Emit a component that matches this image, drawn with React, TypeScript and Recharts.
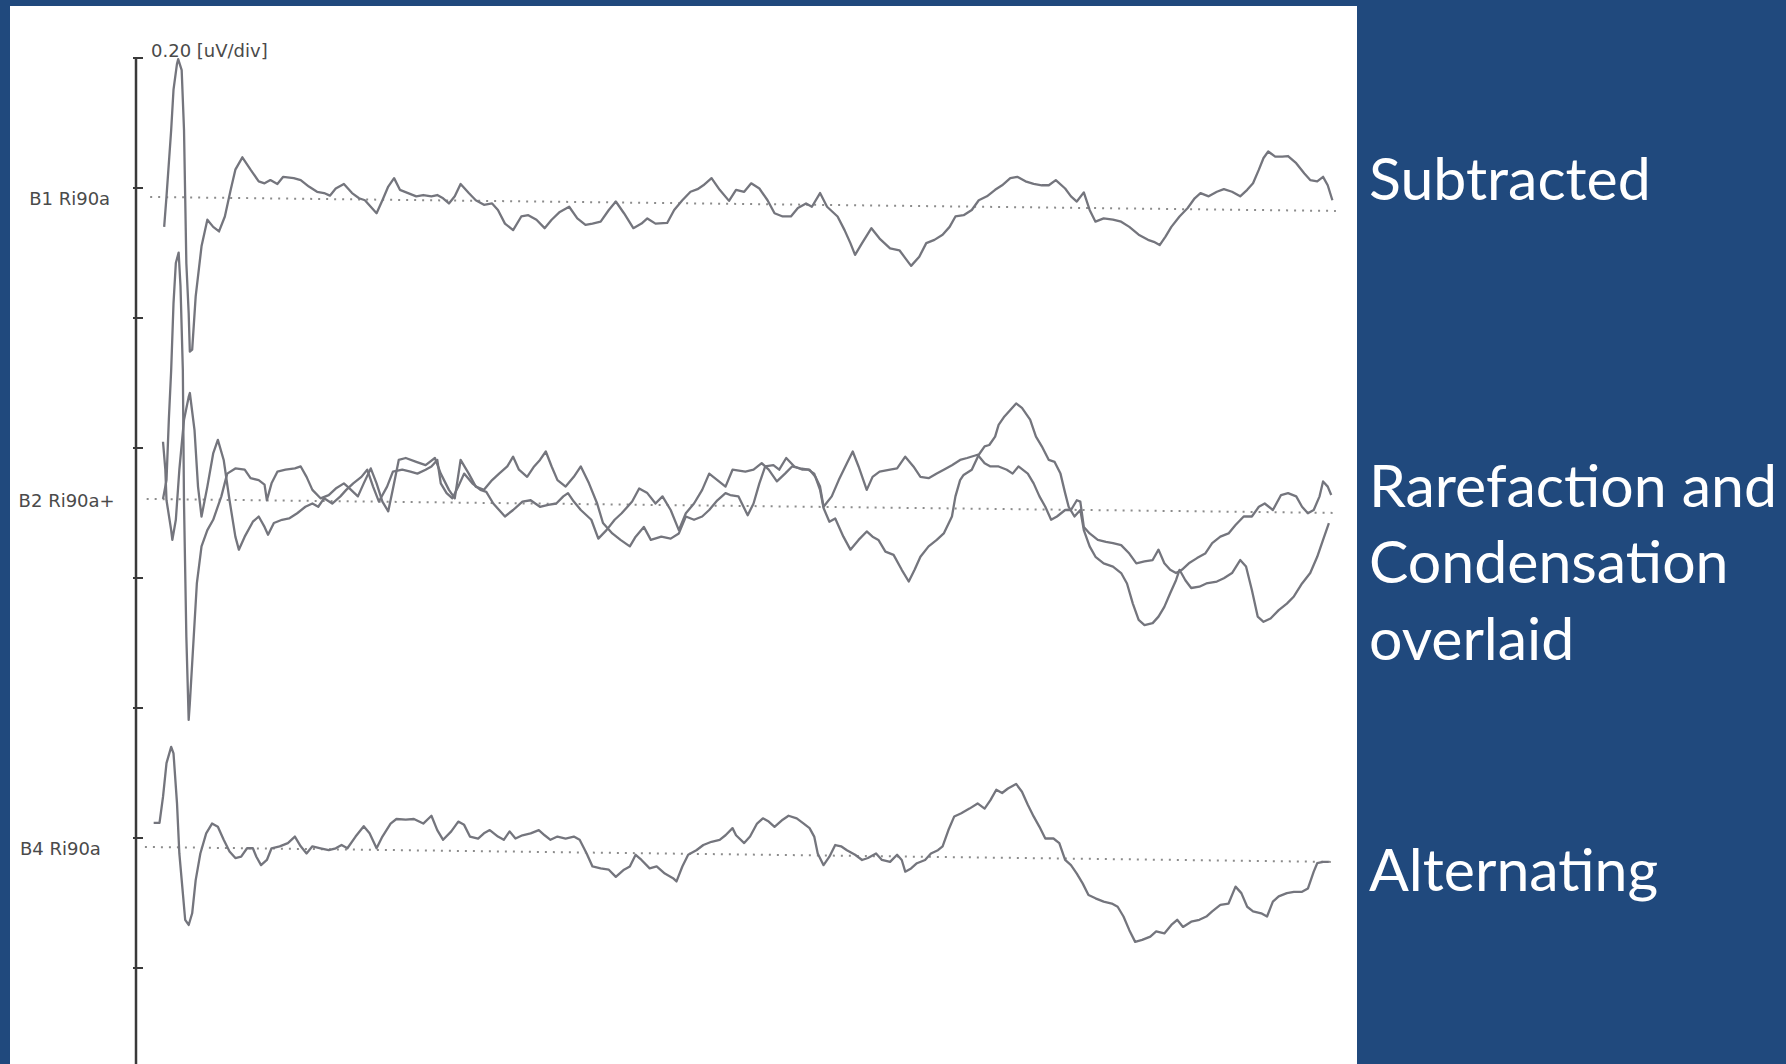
import React from 'react';
import { LineChart, Line, XAxis, YAxis, ReferenceLine } from 'recharts';

// Latency in ms, amplitude in uV relative to each channel's dotted baseline
const subtracted: [number, number][] = [
  [0.01, -0.046], [0.03, 0.001], [0.07, 0.103], [0.09, 0.165], [0.12, 0.205], [0.13, 0.212], [0.16, 0.195],
  [0.18, 0.103], [0.19, 0.001], [0.2, -0.102], [0.22, -0.179], [0.23, -0.238], [0.25, -0.235], [0.28, -0.153],
  [0.33, -0.076], [0.38, -0.035], [0.43, -0.046], [0.48, -0.053], [0.53, -0.03], [0.58, 0.011], [0.62, 0.042],
  [0.68, 0.061], [0.75, 0.042], [0.82, 0.024], [0.87, 0.021], [0.92, 0.026], [0.98, 0.02], [1.03, 0.031],
  [1.12, 0.029], [1.18, 0.026], [1.25, 0.016], [1.32, 0.008], [1.38, 0.006], [1.43, 0.002], [1.48, 0.013],
  [1.55, 0.02], [1.62, 0.006], [1.68, -0.002], [1.73, -0.005], [1.78, -0.015], [1.83, -0.025], [1.88, -0.005],
  [1.93, 0.016], [1.98, 0.029], [2.03, 0.011], [2.1, 0.006], [2.17, 0.001], [2.23, 0.003], [2.3, 0.001],
  [2.35, 0.003], [2.4, -0.002], [2.45, -0.01], [2.5, 0.001], [2.55, 0.02], [2.62, 0.006], [2.68, -0.005],
  [2.75, -0.012], [2.82, -0.01], [2.87, -0.02], [2.93, -0.041], [3.0, -0.051], [3.07, -0.03], [3.13, -0.028],
  [3.2, -0.035], [3.27, -0.048], [3.33, -0.035], [3.4, -0.023], [3.48, -0.015], [3.55, -0.033], [3.62, -0.043],
  [3.68, -0.041], [3.75, -0.038], [3.82, -0.02], [3.88, -0.007], [3.95, -0.025], [4.03, -0.048], [4.1, -0.041],
  [4.15, -0.033], [4.22, -0.041], [4.32, -0.04], [4.38, -0.02], [4.45, -0.005], [4.52, 0.008], [4.58, 0.012],
  [4.63, 0.018], [4.7, 0.029], [4.77, 0.011], [4.85, -0.006], [4.91, 0.011], [4.98, 0.008], [5.04, 0.021],
  [5.11, 0.013], [5.18, -0.005], [5.24, -0.025], [5.31, -0.03], [5.38, -0.03], [5.44, -0.017], [5.51, -0.01],
  [5.56, -0.015], [5.63, 0.006], [5.69, -0.015], [5.78, -0.03], [5.84, -0.051], [5.89, -0.071], [5.93, -0.089],
  [5.99, -0.071], [6.07, -0.048], [6.14, -0.064], [6.23, -0.079], [6.31, -0.082], [6.36, -0.094], [6.41, -0.106],
  [6.48, -0.092], [6.54, -0.071], [6.61, -0.066], [6.68, -0.058], [6.74, -0.046], [6.79, -0.03], [6.86, -0.028],
  [6.93, -0.02], [6.99, -0.005], [7.06, 0.001], [7.13, 0.011], [7.19, 0.018], [7.26, 0.029], [7.32, 0.031],
  [7.39, 0.024], [7.46, 0.02], [7.53, 0.018], [7.59, 0.018], [7.65, 0.026], [7.73, 0.013], [7.78, 0.001],
  [7.83, -0.007], [7.89, 0.007], [7.94, -0.02], [7.99, -0.038], [8.06, -0.033], [8.14, -0.035], [8.21, -0.038],
  [8.28, -0.046], [8.36, -0.058], [8.44, -0.066], [8.49, -0.069], [8.54, -0.074], [8.59, -0.061], [8.64, -0.046],
  [8.71, -0.03], [8.78, -0.017], [8.84, -0.002], [8.89, 0.006], [8.96, 0.001], [9.03, 0.008], [9.09, 0.012],
  [9.16, 0.008], [9.23, 0.001], [9.29, 0.011], [9.34, 0.021], [9.39, 0.042], [9.43, 0.06], [9.47, 0.07],
  [9.53, 0.062], [9.59, 0.062], [9.64, 0.063], [9.71, 0.052], [9.78, 0.036], [9.83, 0.026], [9.89, 0.024],
  [9.94, 0.031], [9.98, 0.018], [10.02, -0.005],
];

const rarefaction: [number, number][] = [
  [0.0, 0], [0.03, 0.029], [0.05, 0.122], [0.07, 0.198], [0.09, 0.301], [0.11, 0.363], [0.134, 0.379],
  [0.15, 0.327], [0.17, 0.198], [0.18, -0.007], [0.2, -0.212], [0.22, -0.34], [0.23, -0.314], [0.26, -0.222],
  [0.29, -0.13], [0.33, -0.073], [0.38, -0.048], [0.43, -0.032], [0.5, 0.004], [0.55, 0.039], [0.62, 0.047],
  [0.7, 0.045], [0.75, 0.032], [0.82, 0.029], [0.87, 0.022], [0.89, -0.002], [0.93, 0.024], [0.98, 0.042],
  [1.05, 0.045], [1.13, 0.047], [1.18, 0.05], [1.23, 0.034], [1.28, 0.014], [1.35, 0.001], [1.42, 0.006],
  [1.48, 0.016], [1.55, 0.024], [1.6, 0.016], [1.67, 0.004], [1.72, 0.024], [1.78, 0.047], [1.83, 0.024],
  [1.88, -0.004], [1.93, -0.019], [1.98, 0.024], [2.02, 0.06], [2.08, 0.063], [2.17, 0.057], [2.25, 0.052],
  [2.33, 0.063], [2.38, 0.039], [2.45, 0.014], [2.5, 0.001], [2.55, 0.06], [2.62, 0.039], [2.68, 0.019],
  [2.75, 0.014], [2.82, 0.029], [2.88, 0.039], [2.95, 0.05], [3.0, 0.065], [3.05, 0.045], [3.12, 0.034],
  [3.18, 0.05], [3.23, 0.06], [3.28, 0.073], [3.33, 0.05], [3.38, 0.029], [3.45, 0.019], [3.52, 0.034],
  [3.58, 0.05], [3.65, 0.024], [3.72, -0.007], [3.77, -0.037], [3.85, -0.053], [3.92, -0.063], [4.0, -0.073],
  [4.05, -0.058], [4.12, -0.043], [4.18, -0.063], [4.27, -0.058], [4.35, -0.061], [4.42, -0.053], [4.48, -0.027],
  [4.55, -0.032], [4.62, -0.027], [4.68, -0.017], [4.75, -0.002], [4.82, 0.009], [4.86, 0.006], [4.93, 0.004],
  [5.01, -0.025], [5.06, -0.007], [5.11, 0.024], [5.16, 0.05], [5.23, 0.052], [5.28, 0.045], [5.34, 0.063],
  [5.41, 0.05], [5.48, 0.045], [5.54, 0.045], [5.59, 0.034], [5.63, 0.019], [5.66, -0.012], [5.73, 0.004],
  [5.79, 0.029], [5.86, 0.055], [5.91, 0.073], [5.96, 0.05], [6.03, 0.014], [6.08, 0.034], [6.14, 0.042],
  [6.23, 0.045], [6.29, 0.047], [6.36, 0.065], [6.43, 0.05], [6.49, 0.034], [6.56, 0.032], [6.63, 0.039],
  [6.69, 0.045], [6.76, 0.052], [6.83, 0.06], [6.89, 0.063], [6.98, 0.068], [7.04, 0.055], [7.09, 0.05],
  [7.16, 0.05], [7.23, 0.045], [7.28, 0.039], [7.33, 0.05], [7.41, 0.039], [7.46, 0.024], [7.51, 0.004],
  [7.56, -0.012], [7.61, -0.032], [7.66, -0.027], [7.73, -0.017], [7.78, -0.017], [7.83, -0.002], [7.86, -0.004],
  [7.89, -0.043], [7.94, -0.053], [8.01, -0.063], [8.08, -0.066], [8.14, -0.068], [8.21, -0.071], [8.28, -0.084],
  [8.34, -0.099], [8.41, -0.096], [8.48, -0.094], [8.53, -0.078], [8.58, -0.099], [8.63, -0.109], [8.68, -0.114],
  [8.73, -0.109], [8.79, -0.099], [8.86, -0.091], [8.93, -0.084], [8.99, -0.068], [9.06, -0.058], [9.13, -0.053],
  [9.19, -0.04], [9.26, -0.027], [9.33, -0.027], [9.39, -0.012], [9.44, -0.007], [9.51, -0.017], [9.58, 0.006],
  [9.64, 0.009], [9.71, 0.004], [9.76, -0.012], [9.81, -0.022], [9.86, -0.017], [9.91, 0.004], [9.94, 0.027],
  [9.98, 0.019], [10.01, 0.006],
];

const condensation: [number, number][] = [
  [0.0, 0.088], [0.02, 0.045], [0.03, -0.002], [0.07, -0.048], [0.08, -0.063], [0.11, -0.032], [0.14, 0.045],
  [0.18, 0.122], [0.22, 0.157], [0.23, 0.163], [0.27, 0.106], [0.3, 0.019], [0.33, -0.027], [0.38, 0.019],
  [0.43, 0.07], [0.47, 0.091], [0.52, 0.06], [0.57, -0.002], [0.62, -0.058], [0.65, -0.078], [0.7, -0.058],
  [0.77, -0.035], [0.82, -0.027], [0.87, -0.043], [0.9, -0.055], [0.95, -0.037], [1.02, -0.032], [1.08, -0.03],
  [1.15, -0.022], [1.22, -0.012], [1.28, -0.007], [1.33, -0.012], [1.38, 0.001], [1.45, -0.007], [1.52, 0.004],
  [1.57, 0.014], [1.63, 0.024], [1.7, 0.034], [1.75, 0.045], [1.8, 0.019], [1.85, -0.004], [1.92, 0.019],
  [1.97, 0.042], [2.05, 0.045], [2.12, 0.042], [2.18, 0.039], [2.25, 0.045], [2.3, 0.05], [2.35, 0.06],
  [2.38, 0.024], [2.43, 0.009], [2.48, 0.001], [2.53, 0.019], [2.58, 0.039], [2.65, 0.024], [2.72, 0.014],
  [2.77, 0.011], [2.83, -0.007], [2.88, -0.017], [2.93, -0.027], [3.0, -0.017], [3.08, -0.004], [3.15, -0.002],
  [3.23, -0.012], [3.3, -0.009], [3.37, -0.007], [3.43, 0.004], [3.47, 0.009], [3.52, -0.004], [3.58, -0.017],
  [3.67, -0.032], [3.73, -0.061], [3.8, -0.048], [3.87, -0.032], [3.93, -0.022], [4.02, -0.004], [4.08, 0.016],
  [4.15, 0.009], [4.22, -0.007], [4.28, 0.004], [4.35, -0.017], [4.42, -0.048], [4.48, -0.022], [4.55, -0.007],
  [4.62, 0.014], [4.68, 0.039], [4.75, 0.029], [4.82, 0.019], [4.88, 0.045], [4.99, 0.042], [5.06, 0.045],
  [5.13, 0.055], [5.19, 0.045], [5.26, 0.027], [5.33, 0.039], [5.39, 0.05], [5.46, 0.047], [5.53, 0.045],
  [5.58, 0.039], [5.63, 0.014], [5.66, -0.014], [5.71, -0.035], [5.76, -0.03], [5.83, -0.058], [5.89, -0.078],
  [5.96, -0.063], [6.03, -0.05], [6.08, -0.058], [6.13, -0.063], [6.19, -0.081], [6.26, -0.086], [6.33, -0.109],
  [6.39, -0.127], [6.44, -0.109], [6.49, -0.089], [6.56, -0.073], [6.63, -0.063], [6.69, -0.053], [6.76, -0.027],
  [6.79, 0.004], [6.83, 0.029], [6.86, 0.037], [6.93, 0.045], [6.99, 0.068], [7.04, 0.081], [7.08, 0.083],
  [7.13, 0.096], [7.16, 0.114], [7.21, 0.127], [7.26, 0.137], [7.31, 0.147], [7.36, 0.14], [7.43, 0.122],
  [7.48, 0.096], [7.53, 0.081], [7.59, 0.06], [7.64, 0.057], [7.69, 0.039], [7.73, 0.009], [7.76, -0.012],
  [7.81, -0.027], [7.86, -0.017], [7.89, -0.048], [7.94, -0.073], [7.99, -0.089], [8.06, -0.099], [8.14, -0.104],
  [8.21, -0.114], [8.26, -0.13], [8.31, -0.161], [8.36, -0.186], [8.41, -0.194], [8.48, -0.191], [8.53, -0.181],
  [8.58, -0.166], [8.63, -0.145], [8.68, -0.125], [8.71, -0.109], [8.76, -0.125], [8.81, -0.137], [8.88, -0.135],
  [8.94, -0.13], [9.03, -0.127], [9.09, -0.122], [9.16, -0.114], [9.23, -0.094], [9.28, -0.104], [9.33, -0.14],
  [9.38, -0.181], [9.43, -0.189], [9.49, -0.184], [9.56, -0.171], [9.63, -0.161], [9.69, -0.15], [9.76, -0.13],
  [9.83, -0.114], [9.89, -0.089], [9.94, -0.063], [9.99, -0.037],
];

const alternating: [number, number][] = [
  [-0.08, 0.037], [-0.03, 0.037], [0.0, 0.077], [0.03, 0.129], [0.07, 0.154], [0.09, 0.144], [0.12, 0.067],
  [0.14, -0.01], [0.17, -0.071], [0.19, -0.112], [0.22, -0.12], [0.25, -0.102], [0.28, -0.051], [0.32, -0.01],
  [0.37, 0.021], [0.42, 0.036], [0.47, 0.031], [0.52, 0.011], [0.57, -0.007], [0.62, -0.017], [0.67, -0.015],
  [0.72, -0.002], [0.77, -0.002], [0.8, -0.015], [0.84, -0.028], [0.89, -0.02], [0.93, -0.002], [1.0, 0.001],
  [1.07, 0.006], [1.13, 0.016], [1.18, 0.001], [1.23, -0.01], [1.28, 0.001], [1.35, -0.002], [1.42, -0.005],
  [1.48, -0.002], [1.53, 0.003], [1.58, -0.002], [1.65, 0.016], [1.72, 0.032], [1.77, 0.021], [1.83, -0.002],
  [1.88, 0.016], [1.95, 0.036], [2.0, 0.043], [2.08, 0.042], [2.15, 0.043], [2.23, 0.036], [2.3, 0.048],
  [2.35, 0.026], [2.4, 0.011], [2.47, 0.024], [2.53, 0.039], [2.58, 0.034], [2.63, 0.016], [2.7, 0.013],
  [2.75, 0.021], [2.8, 0.026], [2.87, 0.016], [2.92, 0.011], [2.97, 0.024], [3.02, 0.013], [3.08, 0.018],
  [3.15, 0.021], [3.22, 0.026], [3.27, 0.018], [3.32, 0.011], [3.38, 0.016], [3.45, 0.013], [3.52, 0.016],
  [3.57, 0.011], [3.63, -0.01], [3.68, -0.03], [3.75, -0.033], [3.82, -0.035], [3.88, -0.046], [3.95, -0.035],
  [4.0, -0.03], [4.05, -0.012], [4.1, -0.02], [4.17, -0.033], [4.23, -0.03], [4.3, -0.041], [4.37, -0.048],
  [4.4, -0.053], [4.45, -0.03], [4.5, -0.012], [4.57, -0.005], [4.63, 0.003], [4.7, 0.008], [4.77, 0.011],
  [4.82, 0.018], [4.88, 0.029], [4.91, 0.018], [4.98, 0.006], [5.03, 0.016], [5.09, 0.036], [5.14, 0.044],
  [5.19, 0.039], [5.24, 0.031], [5.31, 0.042], [5.36, 0.048], [5.43, 0.044], [5.49, 0.036], [5.54, 0.029],
  [5.58, 0.016], [5.61, -0.01], [5.66, -0.028], [5.71, -0.015], [5.76, 0.003], [5.81, 0.001], [5.86, -0.005],
  [5.93, -0.012], [5.99, -0.02], [6.04, -0.017], [6.11, -0.01], [6.16, -0.02], [6.23, -0.023], [6.29, -0.012],
  [6.33, -0.02], [6.36, -0.038], [6.41, -0.033], [6.46, -0.025], [6.53, -0.02], [6.58, -0.01], [6.64, -0.005],
  [6.68, 0.001], [6.73, 0.026], [6.78, 0.047], [6.84, 0.052], [6.91, 0.059], [6.98, 0.067], [7.04, 0.059],
  [7.09, 0.072], [7.14, 0.088], [7.19, 0.083], [7.24, 0.09], [7.31, 0.097], [7.36, 0.085], [7.41, 0.065],
  [7.46, 0.047], [7.51, 0.031], [7.56, 0.013], [7.63, 0.013], [7.68, 0.006], [7.73, -0.02], [7.78, -0.028],
  [7.83, -0.041], [7.88, -0.056], [7.93, -0.074], [7.99, -0.079], [8.06, -0.084], [8.13, -0.087], [8.18, -0.092],
  [8.23, -0.107], [8.28, -0.128], [8.33, -0.146], [8.39, -0.143], [8.46, -0.138], [8.51, -0.13], [8.58, -0.133],
  [8.64, -0.12], [8.69, -0.112], [8.74, -0.123], [8.81, -0.115], [8.88, -0.112], [8.94, -0.107], [8.99, -0.099],
  [9.06, -0.089], [9.13, -0.087], [9.19, -0.061], [9.24, -0.071], [9.29, -0.092], [9.34, -0.099], [9.41, -0.102],
  [9.46, -0.107], [9.51, -0.084], [9.56, -0.076], [9.63, -0.071], [9.69, -0.069], [9.76, -0.069], [9.81, -0.064],
  [9.86, -0.038], [9.89, -0.025], [9.94, -0.023], [9.99, -0.023],
];

// dotted baselines: start latency, end latency, drift at the end (uV)
const baselineStart = [-0.11, -0.14, -0.155];
const baselineEnd = [10.05, 10.05, 10.03];
const baselineDrift = [-0.0215, -0.0215, -0.023];

const channelNames = ['B1 Ri90a', 'B2 Ri90a+', 'B4 Ri90a'];
const divisionTicks = [0, 1, 2, 3, 4, 5, 6, 7];
const UV_PER_DIV = 0.2;
const scaleLabel = '0.20 [uV/div]';
const captions = ['Subtracted', 'Rarefaction and', 'Condensation', 'overlaid', 'Alternating'];

// layout: page pixels
const PANEL = { left: 10, top: 6, width: 1347, height: 1058 };
const PLOT_TOP = 58;
const PLOT_BOTTOM = 1064;
const PX_PER_DIV = 130;
const AXIS_X = 136;
const AXIS_W = 10;
// where each channel's zero sits on the division scale
const channelOffset = [5.931, 3.608, 0.931];
const labelGap = [40, 32, 44];
const captionY = [200, 507, 583, 660, 891];

const TRACE = '#74757d';
const INK = '#3a3a3a';
const LABEL = '#4a4a4a';

const divDomain: [number, number] = [7 - (PLOT_BOTTOM - PLOT_TOP) / PX_PER_DIV, 7];
const toPoints = (arr: [number, number][], ch: number) =>
  arr.map(([t, v]) => ({ t, v: channelOffset[ch] + v / UV_PER_DIV }));

const series = [
  { name: 'subtracted', data: toPoints(subtracted, 0) },
  { name: 'rarefaction', data: toPoints(rarefaction, 1) },
  { name: 'condensation', data: toPoints(condensation, 1) },
  { name: 'alternating', data: toPoints(alternating, 2) },
];

const DivTick = (props: any) => {
  const { x, y, payload } = props;
  return (
    <g>
      <line x1={x - 3} x2={x + 7} y1={y} y2={y} stroke={INK} strokeWidth={2} />
      {payload && payload.value === 7 && (
        <text x={x + 15} y={y - 1} fill={LABEL} fontSize={18} fontFamily="DejaVu Sans, sans-serif">
          {scaleLabel}
        </text>
      )}
    </g>
  );
};

const ChannelLabel = (props: any) => {
  const { viewBox, text, gap } = props;
  if (!viewBox) return null;
  return (
    <text
      x={viewBox.x - gap}
      y={viewBox.y + 2}
      textAnchor="end"
      dominantBaseline="central"
      fill={LABEL}
      fontSize={18}
      fontFamily="DejaVu Sans, sans-serif"
    >
      {text}
    </text>
  );
};

export default function App() {
  return (
    <div style={{ position: 'absolute', left: 0, top: 0, width: 1786, height: 1064, background: '#20497d', overflow: 'hidden' }}>
      <div style={{ position: 'absolute', ...PANEL, background: '#fff' }}>
        <LineChart
          width={PANEL.width}
          height={PANEL.height}
          margin={{ top: PLOT_TOP - PANEL.top, right: 12, bottom: 0, left: AXIS_X - PANEL.left - AXIS_W }}
        >
          <XAxis type="number" dataKey="t" domain={[-0.2314, 10.128]} allowDataOverflow hide />
          <YAxis
            type="number"
            domain={divDomain}
            allowDataOverflow
            ticks={divisionTicks}
            interval={0}
            width={AXIS_W}
            tickSize={0}
            tickMargin={0}
            tickLine={false}
            axisLine={{ stroke: INK, strokeWidth: 2.5 }}
            tick={<DivTick />}
          />
          {channelNames.map((name, i) => (
            <ReferenceLine
              key={name}
              segment={[
                { x: baselineStart[i], y: channelOffset[i] },
                { x: baselineEnd[i], y: channelOffset[i] + baselineDrift[i] / UV_PER_DIV },
              ]}
              stroke="#8c8c8c"
              strokeWidth={2}
              strokeDasharray="2 6"
              ifOverflow="visible"
              label={(p: any) => <ChannelLabel {...p} text={name} gap={labelGap[i]} />}
            />
          ))}
          {series.map((s) => (
            <Line
              key={s.name}
              data={s.data}
              dataKey="v"
              type="linear"
              stroke={TRACE}
              strokeWidth={2.3}
              strokeLinejoin="round"
              dot={false}
              isAnimationActive={false}
            />
          ))}
        </LineChart>
      </div>
      <svg width={1786} height={1064} style={{ position: 'absolute', left: 0, top: 0, pointerEvents: 'none' }}>
        {captions.map((c, i) => (
          <text key={c} x={1369} y={captionY[i]} fill="#fff" fontSize={59} fontFamily="Lato, sans-serif">
            {c}
          </text>
        ))}
      </svg>
    </div>
  );
}
